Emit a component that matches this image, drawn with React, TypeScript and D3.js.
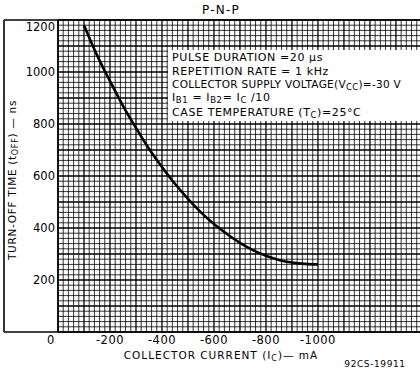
import React from "react";
import * as d3 from "d3";

const currentMA = [-100, -150, -200, -250, -300, -350, -400, -450, -500, -550, -600, -650, -700, -750, -800, -850, -900, -950, -1000];
const turnOffNs = [1180, 1065, 965, 870, 785, 705, 635, 570, 512, 460, 415, 377, 343, 315, 293, 277, 267, 262, 260];
const yTicks = [200, 400, 600, 800, 1000, 1200];
const xTicks = [0, -200, -400, -600, -800, -1000];

const W = 420, H = 371;
const L = 58, T = 20, R = 424, B = 332;

export default function App() {
  const x = d3.scaleLinear().domain([0, -1408]).range([L, R]);
  const y = d3.scaleLinear().domain([0, 1200]).range([B, T]);
  const vMinor = d3.range(0, -1420, -20);
  const hMinor = d3.range(0, 1220, 20);
  const line = d3.line<number>().x((_, i) => x(currentMA[i])).y(d => y(d)).curve(d3.curveCatmullRom);
  const font = "DejaVu Sans, sans-serif";
  return (
    <svg width={W} height={H} style={{ position: "absolute", left: 0, top: 0, background: "#fff" }} fontFamily={font}>
      <rect x={0} y={0} width={W} height={H} fill="#fff" />
      {vMinor.map(v => (
        <line key={"v" + v} x1={x(v)} x2={x(v)} y1={T} y2={B} stroke="#000" strokeWidth={v % 100 === 0 ? 1.3 : 0.8} />
      ))}
      {hMinor.map(v => (
        <line key={"h" + v} x1={L} x2={R} y1={y(v)} y2={y(v)} stroke="#000" strokeWidth={v % 100 === 0 ? 1.3 : 0.8} />
      ))}
      <rect x={168} y={50} width={260} height={71} fill="#fff" />
      <path d={line(turnOffNs) || ""} fill="none" stroke="#000" strokeWidth={2.6} />
      <line x1={4} x2={R} y1={T} y2={T} stroke="#000" strokeWidth={1.6} />
      <line x1={4} x2={R} y1={B} y2={B} stroke="#000" strokeWidth={1.6} />
      <line x1={4} x2={4} y1={T} y2={B} stroke="#000" strokeWidth={1.6} />
      <line x1={L} x2={L} y1={T} y2={B} stroke="#000" strokeWidth={1.6} />
      <text x={221} y={14} fontSize={12} textAnchor="middle" letterSpacing={1.2}>P-N-P</text>
      {yTicks.map(t => (
        <text key={t} x={55} y={t === 1200 ? y(t) + 11 : y(t) + 4} fontSize={11.5} textAnchor="end">{t}</text>
      ))}
      {xTicks.map(t => (
        <text key={t} x={t === 0 ? x(t) - 7 : x(t)} y={344} fontSize={11.5} textAnchor="middle" letterSpacing={0.5}>{t === 0 ? "0" : "-" + Math.abs(t)}</text>
      ))}
      <text x={221} y={359} fontSize={10.5} textAnchor="middle" letterSpacing={1}>
        COLLECTOR CURRENT (I<tspan fontSize={8} dy={2}>C</tspan><tspan dy={-2}>)— mA</tspan>
      </text>
      <text x={375} y={367} fontSize={9} textAnchor="middle" letterSpacing={0.6}>92CS-19911</text>
      <text transform="translate(16,180) rotate(-90)" fontSize={10.5} textAnchor="middle" letterSpacing={0.7}>
        TURN-OFF TIME (t<tspan fontSize={8} dy={2}>OFF</tspan><tspan dy={-2}>) — ns</tspan>
      </text>
      <g fontSize={11} letterSpacing={0.6}>
        <text x={172} y={61}>PULSE DURATION =20 μs</text>
        <text x={172} y={75}>REPETITION RATE = 1 kHz</text>
        <text x={172} y={88} fontSize={10.5} letterSpacing={0.3}>COLLECTOR SUPPLY VOLTAGE(V<tspan fontSize={8.5} dy={2}>CC</tspan><tspan dy={-2}>)=-30 V</tspan></text>
        <text x={172} y={101}>I<tspan fontSize={8.5} dy={2}>B1</tspan><tspan dy={-2}> = I</tspan><tspan fontSize={8.5} dy={2}>B2</tspan><tspan dy={-2}>= I</tspan><tspan fontSize={8.5} dy={2}>C</tspan><tspan dy={-2}> /10</tspan></text>
        <text x={172} y={116}>CASE TEMPERATURE (T<tspan fontSize={8.5} dy={2}>C</tspan><tspan dy={-2}>)=25°C</tspan></text>
      </g>
    </svg>
  );
}
